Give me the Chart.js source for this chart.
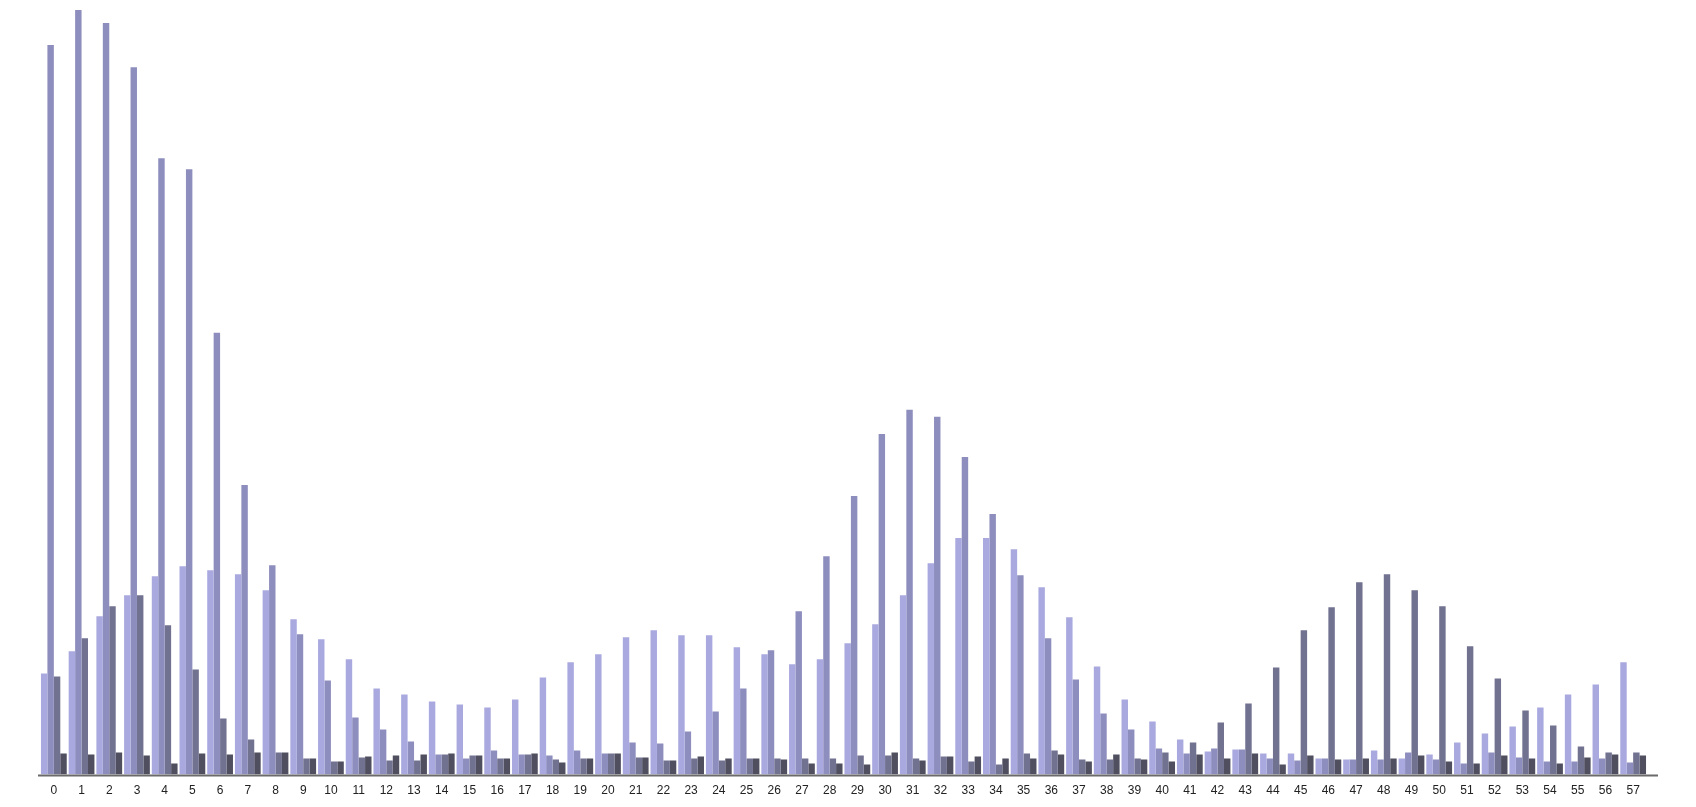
<!DOCTYPE html>
<html>
<head>
<meta charset="utf-8">
<script src="https://cdn.jsdelivr.net/npm/chart.js@4"></script>
<style>
    html, body { margin: 0; padding: 0; background: #fff; }
    #wrap { width: 1696px; height: 807px; }
</style>
</head>
<body>
<div id="wrap"><canvas id="barChart"></canvas></div>
<script>
const labels = Array.from({ length: 58 }, (_, i) => String(i));

const seriesA = [101, 123, 158, 179, 198, 208, 204, 200, 184, 155, 135, 115, 86, 80, 73, 70, 67, 75, 97, 112,
    120, 137, 144, 139, 139, 127, 120, 110, 115, 131, 150, 179, 211, 236, 236, 225, 187, 157, 108, 75,
    53, 35, 23, 25, 21, 21, 16, 15, 24, 16, 20, 32, 41, 48, 67, 80, 90, 112];
const seriesB = [728, 763, 750, 706, 615, 604, 441, 289, 209, 140, 94, 57, 45, 33, 20, 16, 24, 20, 19, 24,
    21, 32, 31, 43, 63, 86, 124, 163, 218, 278, 340, 364, 357, 317, 260, 199, 136, 95, 61, 45,
    26, 21, 26, 25, 16, 14, 16, 15, 15, 22, 15, 11, 22, 17, 13, 13, 16, 12];
const seriesC = [98, 136, 168, 179, 149, 105, 56, 35, 22, 16, 13, 17, 14, 14, 20, 19, 16, 20, 15, 16,
    21, 17, 14, 16, 14, 16, 16, 16, 16, 19, 19, 16, 18, 13, 10, 21, 24, 15, 15, 16,
    22, 32, 52, 71, 107, 144, 167, 192, 200, 184, 168, 128, 96, 64, 49, 28, 22, 22];
const seriesD = [21, 20, 22, 19, 11, 21, 20, 22, 22, 16, 13, 18, 19, 20, 21, 19, 16, 21, 12, 16,
    21, 17, 14, 18, 16, 16, 15, 11, 11, 10, 22, 14, 18, 18, 16, 16, 20, 13, 20, 15,
    13, 20, 16, 21, 10, 19, 15, 16, 16, 19, 13, 11, 19, 16, 11, 17, 20, 19];

// baseline runs a little past the last bar, like the original
const baseline = {
    id: 'baseline',
    afterDatasetsDraw(chart) {
        const { ctx, chartArea } = chart;
        ctx.save();
        ctx.strokeStyle = '#6b6b6b';
        ctx.lineWidth = 2;
        ctx.beginPath();
        ctx.moveTo(chartArea.left - 2, chartArea.bottom + 1);
        ctx.lineTo(chartArea.right + 11, chartArea.bottom + 1);
        ctx.stroke();
        ctx.restore();
    }
};

const ctx = document.getElementById('barChart');

new Chart(ctx, {
    type: 'bar',
    data: {
        labels: labels,
        datasets: [
            { label: 'A', data: seriesA, backgroundColor: '#a9a9df' },
            { label: 'B', data: seriesB, backgroundColor: '#8e8ebe' },
            { label: 'C', data: seriesC, backgroundColor: '#717190' },
            { label: 'D', data: seriesD, backgroundColor: '#4f4f60' }
        ]
    },
    options: {
        responsive: true,
        maintainAspectRatio: false,
        animation: false,
        layout: { padding: { left: 40, right: 49, top: 0, bottom: 0 } },
        plugins: {
            legend: { display: false },
            tooltip: { enabled: false }
        },
        datasets: {
            bar: { categoryPercentage: 0.93, barPercentage: 1.0 }
        },
        scales: {
            x: {
                grid: { display: false, drawTicks: false },
                border: { display: false },
                ticks: {
                    autoSkip: false,
                    maxRotation: 0,
                    padding: 9,
                    color: '#222',
                    font: { family: 'Liberation Sans, Arial, sans-serif', size: 12 }
                }
            },
            y: {
                display: false,
                min: 0,
                max: 773
            }
        }
    },
    plugins: [baseline]
});
</script>
</body>
</html>
